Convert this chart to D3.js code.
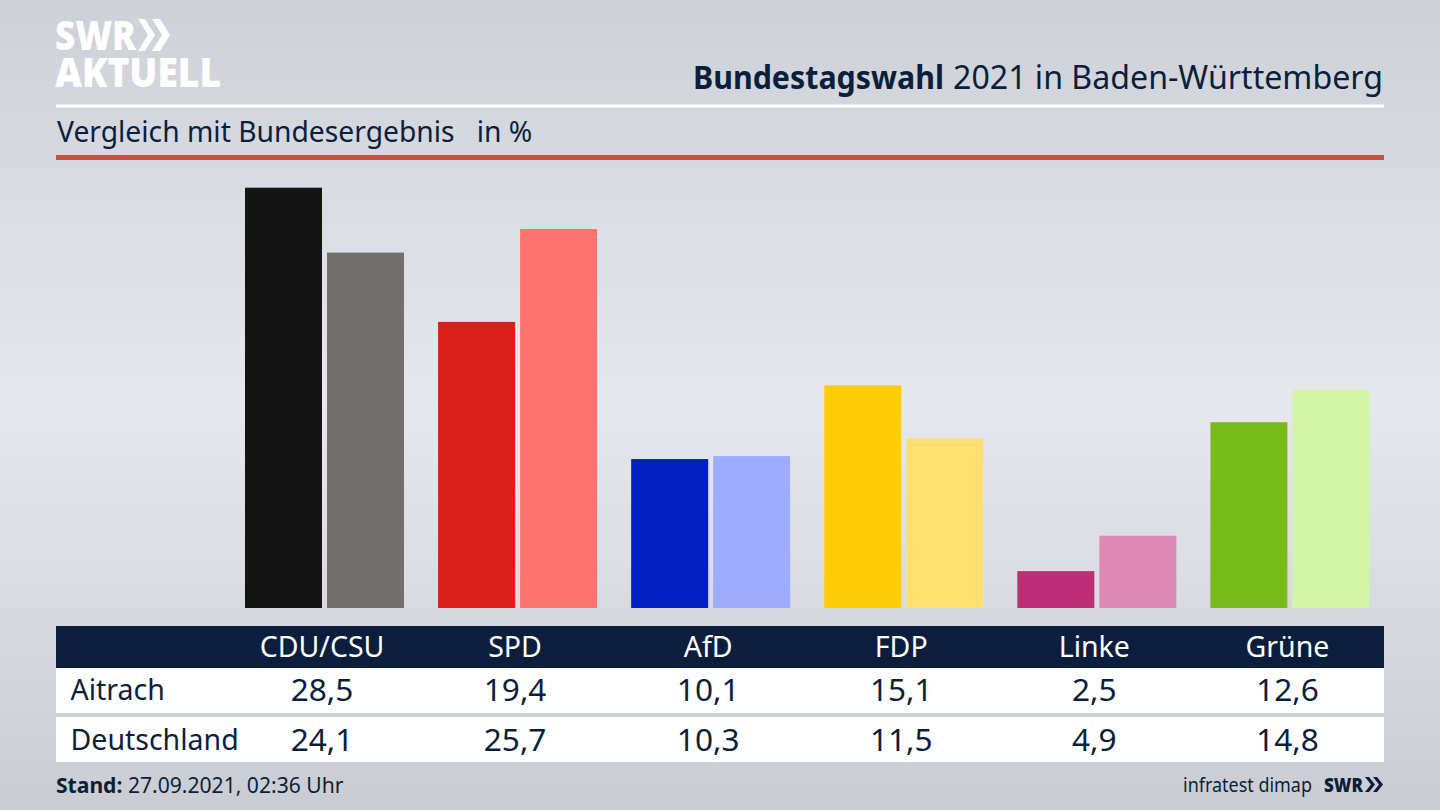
<!DOCTYPE html>
<html><head><meta charset="utf-8">
<script src="https://cdnjs.cloudflare.com/ajax/libs/d3/7.8.5/d3.min.js"></script>
<style>html,body{margin:0;padding:0;background:#d5d7dd;overflow:hidden}svg{display:block}text{font-family:"Noto Sans",sans-serif;fill:#0b1f3c}</style>
</head><body><svg id="c" width="1440" height="810"></svg>
<script>
const parties = ["CDU/CSU","SPD","AfD","FDP","Linke","Grüne"];
const seriesNames = ["Aitrach","Deutschland"];
const aitrach = [28.5,19.4,10.1,15.1,2.5,12.6];
const deutschland = [24.1,25.7,10.3,11.5,4.9,14.8];
const colorsA = ["#141414","#d81f1c","#0020c4","#ffcc0a","#bc2e78","#78bc1c"];
const colorsD = ["#71706d","#ff736f","#9eabff","#ffdf70","#de88b6","#d2f5a8"];
const fmt = v => v.toFixed(1).replace(".",",");

const svg = d3.select("#c");
const defs = svg.append("defs");
const g = defs.append("linearGradient").attr("id","bg").attr("x1",0).attr("x2",0).attr("y1",0).attr("y2",1);
[[0,"#cdd0d7"],[0.5,"#e6e8ed"],[1,"#c9ccd3"]].forEach(s=>g.append("stop").attr("offset",s[0]).attr("stop-color",s[1]));
svg.append("rect").attr("width",1440).attr("height",810).attr("fill","url(#bg)");

// header rules
svg.append("rect").attr("x",56).attr("y",104.5).attr("width",1328).attr("height",3).attr("fill","#fff");
svg.append("rect").attr("x",56).attr("y",155).attr("width",1328).attr("height",5).attr("fill","#c9503c");

// logo
const logo = svg.append("g");
const logoText = logo.append("text").attr("font-size",41).attr("font-weight",800).style("fill","#fff").style("font-family","'Open Sans'");
logoText.append("tspan").attr("x",55).attr("y",50).attr("textLength",81).attr("lengthAdjust","spacingAndGlyphs").style("fill","#fff").text("SWR");
logoText.append("tspan").attr("x",55).attr("y",87).attr("textLength",166).attr("lengthAdjust","spacingAndGlyphs").style("fill","#fff").text("AKTUELL");
const chev = (sel,x,y,h,w,t,fill)=>sel.append("path").attr("fill",fill)
  .attr("d",`M${x},${y}L${x+t},${y}L${x+t+w},${y+h/2}L${x+t},${y+h}L${x},${y+h}L${x+w},${y+h/2}Z`);
chev(logo,138,19,32,10,7,"#fff"); chev(logo,152,19,32,10,8,"#fff");

// titles
svg.append("text").attr("x",693).attr("y",89).attr("font-size",32).attr("font-weight",700).attr("textLength",251).attr("lengthAdjust","spacingAndGlyphs").text("Bundestagswahl");
svg.append("text").attr("x",953).attr("y",89).attr("font-size",32).attr("textLength",430).attr("lengthAdjust","spacingAndGlyphs").text("2021 in Baden-Württemberg");
svg.append("text").attr("x",57).attr("y",142).attr("font-size",28.25).style("white-space","pre").text("Vergleich mit Bundesergebnis   in %");

// bars
const x = d3.scaleBand().domain(parties).range([245,1403.5]).paddingInner(0).paddingOuter(0);
const inner = d3.scaleBand().domain(seriesNames).range([0,159]).paddingInner(5/82).paddingOuter(0);
const y = d3.scaleLinear().domain([0,28.5]).range([608,187.7]);
const rows = [aitrach,deutschland];
const cols = [colorsA,colorsD];
seriesNames.forEach((s,si)=>{
  svg.append("g").selectAll("rect").data(parties).join("rect")
    .attr("x",p=>x(p)+inner(s)).attr("width",inner.bandwidth())
    .attr("y",(p,i)=>y(rows[si][i])).attr("height",(p,i)=>y(0)-y(rows[si][i]))
    .attr("fill",(p,i)=>cols[si][i]);
});

// table
const cx = p => x(p)+inner.bandwidth();
svg.append("rect").attr("x",56).attr("y",626).attr("width",1328).attr("height",42).attr("fill","#0b1f3c");
svg.append("g").selectAll("text").data(parties).join("text")
  .attr("x",cx).attr("y",657).attr("text-anchor","middle").attr("font-size",28.5).style("fill","#fff").text(d=>d);
const rowTop = [668,717], rowH = 45, rowBase = [700,749.5];
seriesNames.forEach((s,si)=>{
  svg.append("rect").attr("x",56).attr("y",rowTop[si]).attr("width",1328).attr("height",rowH).attr("fill","#fff");
  svg.append("text").attr("x",70.5).attr("y",rowBase[si]).attr("font-size",28.5).text(s);
  svg.append("g").selectAll("text").data(parties).join("text")
    .attr("x",cx).attr("y",rowBase[si]+1).attr("text-anchor","middle").attr("font-size",31.6).text((p,i)=>fmt(rows[si][i]));
});

// footer
const st = svg.append("text").attr("x",56).attr("y",793).attr("font-size",21.1);
st.append("tspan").attr("font-weight",700).text("Stand:");
st.append("tspan").text(" 27.09.2021, 02:36 Uhr");
svg.append("text").attr("x",1183).attr("y",792).attr("font-size",20).attr("textLength",129).attr("lengthAdjust","spacingAndGlyphs").text("infratest dimap");
svg.append("text").attr("x",1324).attr("y",792).attr("font-size",20).attr("font-weight",800).attr("textLength",39).attr("lengthAdjust","spacingAndGlyphs").style("font-family","'Open Sans'").text("SWR");
chev(svg,1365,777,15,6,4,"#0b1f3c"); chev(svg,1373,777,15,6,4,"#0b1f3c");
</script></body></html>
